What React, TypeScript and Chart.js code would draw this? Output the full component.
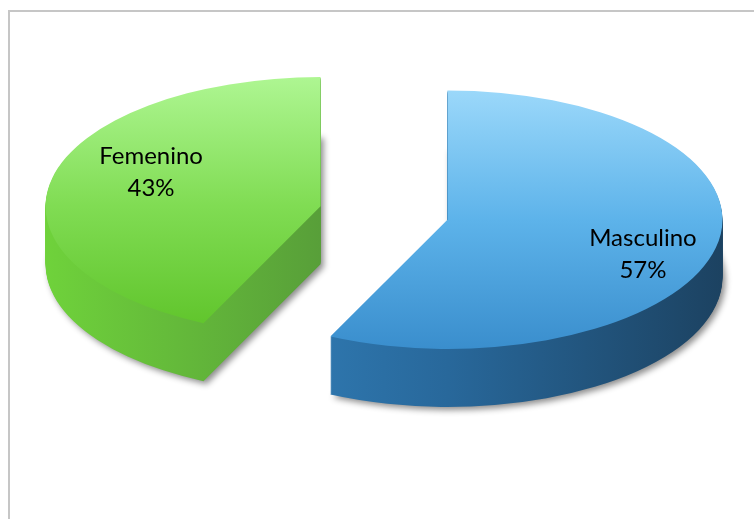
import React, { useEffect, useRef } from "react";
import { Chart, registerables } from "chart.js";

Chart.register(...registerables);

// ---- data ----
const categories = ["Masculino", "Femenino"];
const values = [57, 43];
const percentLabels = ["57%", "43%"];

// ---- styles ----
const TILT = 0.47; // vertical squash of the pie (perspective)
const DEPTH = 58; // extrusion height in px
const EXPLODE = 65; // explode distance in px
const RADIUS = 275;
const LABEL_FRACTION = 0.68;
const LABEL_TILT = 0.85;
const LABEL_SHIFT_X = 13;
const topColors = [
  ["#9bd8fa", "#5db3ea", "#3a8ecd"],
  ["#aef692", "#80dc53", "#5ec329"],
];
const sideColors = [
  ["#3586c2", "#28689b", "#1c4261"],
  ["#6fd23b", "#589f39", "#55963a"],
];

function drawArcAs(ctx: CanvasRenderingContext2D, arc: any, fill: any) {
  const clone = Object.assign(Object.create(Object.getPrototypeOf(arc)), arc);
  clone.options = Object.assign({}, arc.options, {
    backgroundColor: fill,
    borderWidth: 0,
    offset: 0,
  });
  clone.draw(ctx);
}

const pie3d = {
  id: "pie3d",
  beforeDatasetsDraw(chart: any) {
    const ctx: CanvasRenderingContext2D = chart.ctx;
    const area = chart.chartArea;
    const cy = (area.top + area.bottom) / 2;
    const meta = chart.getDatasetMeta(0);
    const order = meta.data.map((_: any, i: number) => i).reverse();
    order.forEach((i: number) => {
      const arc: any = meta.data[i];
      const r = arc.outerRadius;
      const mid = (arc.startAngle + arc.endAngle) / 2;
      const dx = Math.cos(mid) * EXPLODE;
      const dy = Math.sin(mid) * EXPLODE;

      const side = ctx.createLinearGradient(arc.x - r, 0, arc.x + r, 0);
      side.addColorStop(0, sideColors[i][0]);
      side.addColorStop(0.5, sideColors[i][1]);
      side.addColorStop(1, sideColors[i][2]);

      const top = ctx.createLinearGradient(0, arc.y - r, 0, arc.y + r);
      top.addColorStop(0, topColors[i][0]);
      top.addColorStop(0.5, topColors[i][1]);
      top.addColorStop(1, topColors[i][2]);

      for (let k = DEPTH; k >= 0; k--) {
        ctx.save();
        if (k === DEPTH) {
          ctx.shadowColor = "rgba(0,0,0,0.45)";
          ctx.shadowBlur = 6;
          ctx.shadowOffsetX = 3;
          ctx.shadowOffsetY = 3;
        }
        ctx.translate(0, k);
        ctx.translate(0, cy);
        ctx.scale(1, TILT);
        ctx.translate(0, -cy);
        ctx.translate(dx, dy);
        drawArcAs(ctx, arc, k === 0 ? top : side);
        ctx.restore();
      }

      // label
      const sx = arc.x + dx;
      const sy = cy + (arc.y + dy - cy) * TILT;
      const lx = sx + Math.cos(mid) * LABEL_FRACTION * r + LABEL_SHIFT_X;
      const ly = sy + Math.sin(mid) * LABEL_FRACTION * r * LABEL_TILT;
      ctx.save();
      ctx.fillStyle = "#000000";
      ctx.font = "24px Lato";
      ctx.textAlign = "center";
      ctx.textBaseline = "alphabetic";
      ctx.fillText(categories[i], lx, ly - 8);
      ctx.fillText(percentLabels[i], lx, ly + 24);
      ctx.restore();
    });
    return false;
  },
};

export default function App() {
  const ref = useRef<HTMLCanvasElement | null>(null);
  useEffect(() => {
    if (!ref.current) return;
    const chart = new Chart(ref.current, {
      type: "pie",
      data: {
        labels: categories,
        datasets: [
          {
            data: values,
            backgroundColor: topColors.map((c) => c[1]),
            borderWidth: 0,
            radius: RADIUS,
          } as any,
        ],
      },
      options: {
        animation: false,
        responsive: false,
        events: [],
        layout: { padding: { left: 4, right: 0, top: 0, bottom: 105 } },
        plugins: {
          legend: { display: false },
          tooltip: { enabled: false },
        },
      } as any,
      plugins: [pie3d],
    });
    return () => chart.destroy();
  }, []);

  return (
    <div
      style={{
        position: "absolute",
        left: 8,
        top: 10,
        width: 746,
        height: 509,
        boxSizing: "border-box",
        borderLeft: "2px solid #c6c6c6",
        borderTop: "2px solid #c6c6c6",
        background: "#ffffff",
      }}
    >
      <canvas ref={ref} width={744} height={507} style={{ display: "block", width: 744, height: 507 }} />
    </div>
  );
}
